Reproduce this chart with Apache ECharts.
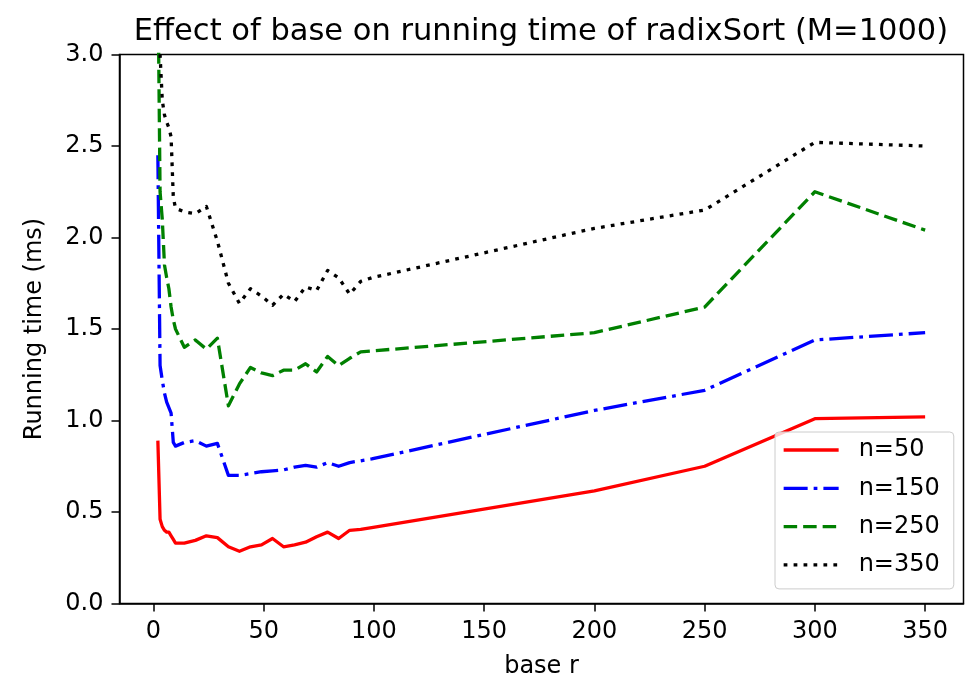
<!DOCTYPE html>
<html>
<head>
<meta charset="utf-8">
<script src="https://cdn.jsdelivr.net/npm/echarts@6/dist/echarts.min.js"></script>
<style>
  html, body { margin: 0; padding: 0; background: #fff; }
  #chart { width: 968px; height: 680px; }
</style>
</head>
<body>
<div id="chart"></div>
<script>
// Radix base r used for each run
const bases = [2, 3, 4, 5, 6, 7, 8, 9, 10,
  14, 19, 24, 29, 34, 39, 44, 49, 54, 59, 64, 69, 74, 79, 84, 89, 94, 99,
  200, 250, 300, 350];

// Running time (ms) for each input size n
const timeN50 = [0.89, 0.46, 0.42, 0.40, 0.39, 0.39, 0.37, 0.35, 0.33,
  0.33, 0.345, 0.37, 0.36, 0.31, 0.285, 0.31, 0.32, 0.355, 0.31, 0.32, 0.335, 0.365, 0.39, 0.355, 0.40, 0.405, 0.415,
  0.615, 0.75, 1.01, 1.02];
const timeN150 = [2.45, 1.30, 1.22, 1.15, 1.10, 1.07, 1.04, 0.88, 0.86,
  0.88, 0.89, 0.86, 0.875, 0.70, 0.70, 0.71, 0.72, 0.725, 0.73, 0.745, 0.755, 0.745, 0.77, 0.75, 0.77, 0.78, 0.79,
  1.055, 1.165, 1.44, 1.48];
const timeN250 = [3.45, 2.25, 2.10, 1.85, 1.78, 1.72, 1.62, 1.55, 1.50,
  1.40, 1.44, 1.39, 1.45, 1.08, 1.20, 1.29, 1.26, 1.245, 1.275, 1.275, 1.31, 1.265, 1.35, 1.30, 1.34, 1.375, 1.38,
  1.48, 1.62, 2.25, 2.04];
const timeN350 = [3.6, 3.0, 2.75, 2.67, 2.63, 2.6, 2.55, 2.22, 2.16,
  2.14, 2.13, 2.17, 1.98, 1.75, 1.64, 1.72, 1.68, 1.63, 1.69, 1.65, 1.73, 1.71, 1.82, 1.78, 1.69, 1.76, 1.78,
  2.05, 2.15, 2.52, 2.50];

const seriesNames = ['n=50', 'n=150', 'n=250', 'n=350'];
const xTicks = [0, 50, 100, 150, 200, 250, 300, 350];

const FONT = 'DejaVu Sans';
const LW = 3.3;
const lineStyles = [
  { color: '#ff0000', type: 'solid' },
  { color: '#0000ff', type: [24, 6, 3.75, 6] },
  { color: '#008000', type: [13.5, 6] },
  { color: '#000000', type: [3.75, 6.2] }
];
const values = [timeN50, timeN150, timeN250, timeN350];

const series = seriesNames.map((name, i) => ({
  name: name,
  type: 'line',
  data: bases.map((b, k) => [b, values[i][k]]),
  symbol: 'none',
  showSymbol: false,
  clip: true,
  z: 2 + i,
  lineStyle: {
    color: lineStyles[i].color,
    width: LW,
    type: lineStyles[i].type,
    cap: 'butt',
    join: 'round'
  },
  itemStyle: { color: lineStyles[i].color }
}));

const chart = echarts.init(document.getElementById('chart'), null, { renderer: 'canvas' });
chart.setOption({
  animation: false,
  backgroundColor: '#ffffff',
  title: {
    text: 'Effect of base on running time of radixSort (M=1000)',
    left: 541,
    top: 17,
    padding: 0,
    textAlign: 'center',
    textStyle: { fontFamily: FONT, fontSize: 30.5, fontWeight: 'normal', color: '#000' }
  },
  grid: {
    left: 119.5, right: 4.5, top: 54.5, bottom: 76.5,
    outerBoundsMode: 'none',
    containLabel: false,
    show: true, borderColor: '#000', borderWidth: 1.5, backgroundColor: 'transparent'
  },
  legend: {
    data: seriesNames,
    orient: 'vertical',
    left: 775,
    top: 432,
    padding: [6, 14, 12, 7],
    itemWidth: 55,
    itemHeight: 12,
    itemGap: 14.3,
    itemStyle: { opacity: 0, borderWidth: 0 },
    lineStyle: { width: LW },
    backgroundColor: 'rgba(255,255,255,0.8)',
    borderColor: '#cccccc',
    borderWidth: 1,
    borderRadius: 4,
    textStyle: { fontFamily: FONT, fontSize: 24, color: '#000', lineHeight: 24, padding: [0, 0, 0, 15] }
  },
  xAxis: {
    type: 'value',
    min: -15.4,
    max: 367.4,
    name: 'base r',
    nameLocation: 'middle',
    nameGap: 51,
    nameTextStyle: { fontFamily: FONT, fontSize: 24, color: '#000' },
    axisLine: { show: true, onZero: false, lineStyle: { color: '#000', width: 1.5 } },
    axisTick: { show: true, inside: false, length: 8, customValues: xTicks, lineStyle: { color: '#000', width: 1.5 } },
    axisLabel: { margin: 16, customValues: xTicks, fontFamily: FONT, fontSize: 24, color: '#000',
      formatter: v => String(v) },
    splitLine: { show: false }
  },
  yAxis: {
    type: 'value',
    min: 0,
    max: 3,
    interval: 0.5,
    name: 'Running time (ms)',
    nameLocation: 'middle',
    nameGap: 73,
    nameRotate: 90,
    nameTextStyle: { fontFamily: FONT, fontSize: 24, color: '#000' },
    axisLine: { show: true, onZero: false, lineStyle: { color: '#000', width: 1.5 } },
    axisTick: { show: true, inside: false, length: 8, lineStyle: { color: '#000', width: 1.5 } },
    axisLabel: { margin: 16, fontFamily: FONT, fontSize: 24, color: '#000',
      formatter: v => v.toFixed(1) },
    splitLine: { show: false }
  },
  series: series
});
</script>
</body>
</html>
